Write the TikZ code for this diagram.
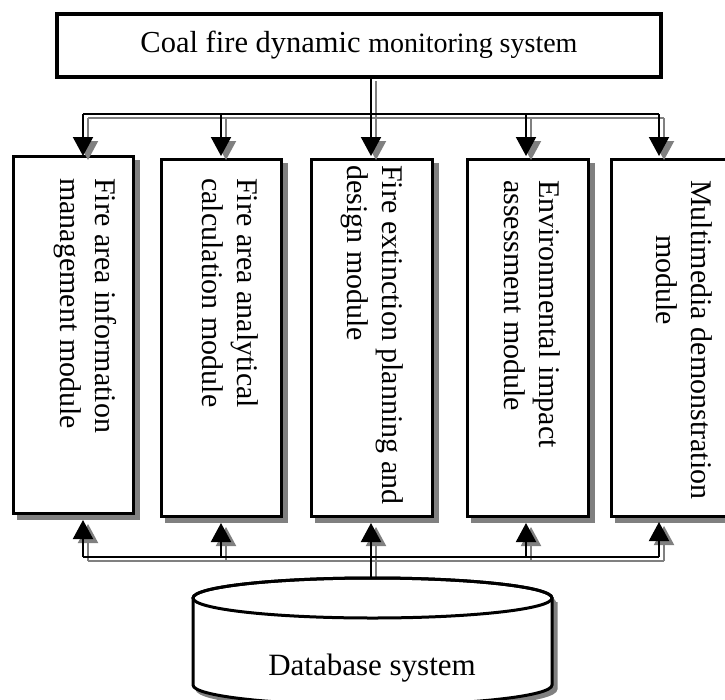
\documentclass[tikz,border=0pt]{standalone}
\usepackage{fontspec}
\setmainfont{Liberation Serif}
\usetikzlibrary{arrows.meta,calc}
\definecolor{shgray}{RGB}{128,128,128}
\begin{document}
\begin{tikzpicture}[x=1pt,y=-1pt,
  modbox/.style={draw=black,line width=3pt,fill=white,minimum width=120pt,
    minimum height=357pt,inner sep=0pt,outer sep=0pt,
    preaction={draw=shgray,fill=shgray,transform canvas={xshift=5pt,yshift=-5pt}}},
  modtext/.style={rotate=-90,anchor=west,align=left,inner sep=0pt,
    font=\fontsize{30}{35}\selectfont},
  conn/.style={line width=2pt,-{Triangle[width=20pt,length=19pt]}},
  bus/.style={line width=2pt},
  frame/.style={draw=shgray,line width=0.7pt,double=white,double distance=1.3pt}
]
\useasboundingbox (0,0) rectangle (725,699);
\fill[white] (0,0) rectangle (725,699);

% top box
\draw[frame] (63,22) rectangle (664,82);
\node[draw=black,line width=3.5pt,minimum width=604pt,minimum height=63pt,
  inner sep=0pt,outer sep=0pt] (top) at (359,45.5)
  {\fontsize{30.5}{34}\selectfont Coal fire dynamic \fontsize{28}{34}\selectfont monitoring system};

% module boxes
\node[modbox] (m1) at (73,334.5) {};
\node[modbox] (m2) at (221,338) {};
\node[modbox,minimum width=121pt] (m3) at (371.5,337.5) {};
\node[modbox,minimum width=121pt] (m4) at (527.5,338) {};
\node[modbox,minimum width=121pt] (m5) at (671.5,337.5) {};

\node[modtext] (t1) at (85,178) {Fire area information\\management module};
\node[modtext] (t2) at (230,178) {Fire area analytical\\calculation module};
\node[modtext] (t3) at (372,165) {Fire extinction planning and\\design module};
\node[modtext] (t4) at (532,180) {Environmental impact\\assessment module};
\node[modtext] (t5) at (684,180) {Multimedia demonstration\\\hspace*{55pt}module};

% arrow tip coordinates
\coordinate (in1) at (83,156);  \coordinate (out1) at (83,520);
\coordinate (in2) at (221,156); \coordinate (out2) at (221,523);
\coordinate (in3) at (371,156); \coordinate (out3) at (371,523);
\coordinate (in4) at (526,156); \coordinate (out4) at (526,523);
\coordinate (in5) at (659,156); \coordinate (out5) at (659,522);
\coordinate (busT) at (0,114);
\coordinate (busB) at (0,557);
\coordinate (db) at (371,578);

% connectors: gray shadow then black
\foreach \col/\dx/\dy in {shgray/5pt/-4pt, black/0pt/0pt}{
  \begin{scope}[transform canvas={xshift=\dx,yshift=\dy},draw=\col,fill=\col]
    \draw[bus,\col] (in1 |- busT) -- (in5 |- busT);
    \draw[conn,\col] (in3 |- top.south) -- (in3);
    \draw[conn,\col] (in1 |- busT) -- (in1);
    \draw[conn,\col] (in2 |- busT) -- (in2);
    \draw[conn,\col] (in4 |- busT) -- (in4);
    \draw[conn,\col] (in5 |- busT) -- (in5);
    \draw[bus,\col] (out1 |- busB) -- (out5 |- busB);
    \draw[conn,\col] (db) -- (out3);
    \draw[conn,\col] (out1 |- busB) -- (out1);
    \draw[conn,\col] (out2 |- busB) -- (out2);
    \draw[conn,\col] (out4 |- busB) -- (out4);
    \draw[conn,\col] (out5 |- busB) -- (out5);
  \end{scope}
}

% database cylinder
\begin{scope}[transform canvas={xshift=4pt,yshift=-4pt}]
  \fill[shgray] (193,598) -- (193,685) arc[start angle=180,end angle=0,x radius=179.5,y radius=20]
    -- (552,598) arc[start angle=360,end angle=180,x radius=179.5,y radius=20] -- cycle;
  \draw[shgray,line width=3pt] (193,598) -- (193,685) arc[start angle=180,end angle=0,x radius=179.5,y radius=20]
    -- (552,598);
\end{scope}
\draw[line width=3pt,fill=white] (193,598) -- (193,685) arc[start angle=180,end angle=0,x radius=179.5,y radius=20]
    -- (552,598) arc[start angle=360,end angle=180,x radius=179.5,y radius=20] -- cycle;
\draw[line width=3pt] (372.5,598) ellipse[x radius=179.5,y radius=20];
\node[inner sep=0pt,anchor=base,font=\fontsize{31}{35}\selectfont] (dbt) at (372,675) {Database system};
\end{tikzpicture}
\end{document}
